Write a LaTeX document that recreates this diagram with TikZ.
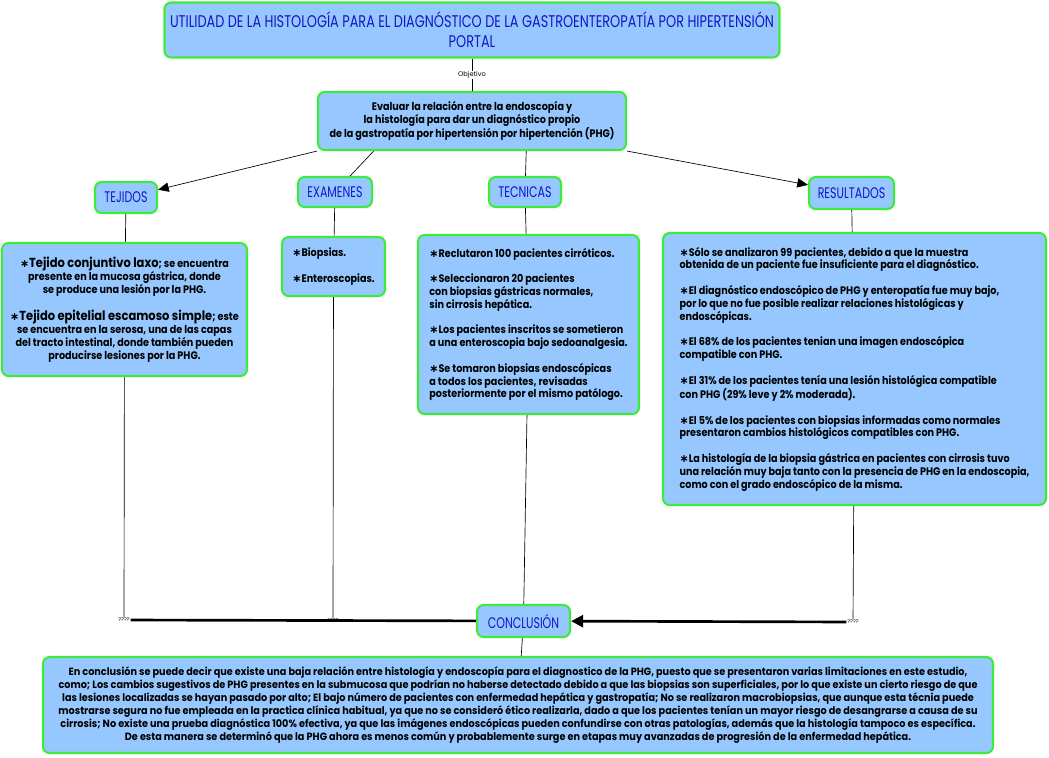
\documentclass[tikz,border=0pt]{standalone}
\usepackage{fontspec}
\setmainfont{Poppins}
\newfontfamily\bodyfont[FakeStretch=0.88]{Poppins}
\newfontfamily\condfont[FakeStretch=0.92]{Poppins}
\newfontfamily\headfont[FakeStretch=0.72]{Poppins}
\newfontfamily\titlefont[FakeStretch=0.76]{Poppins}
\newfontfamily\symfont{DejaVu Sans}
\newcommand\bul{{\symfont\bfseries ∗}}
\usetikzlibrary{arrows.meta}
\definecolor{boxfill}{RGB}{150,200,255}
\definecolor{boxline}{RGB}{60,235,60}
\definecolor{headblue}{RGB}{20,20,200}
\tikzset{
  mapbox/.style={draw=boxline, fill=boxfill, line width=1.6pt, rounded corners=5pt, inner sep=0pt},
  headbox/.style={mapbox, text=headblue, font=\headfont\fontsize{11.5}{12}\selectfont},
  txtbox/.style={mapbox, font=\bodyfont\bfseries\fontsize{8.2}{9.6}\selectfont},
  tag/.style={font=\fontsize{4}{4}\selectfont, inner sep=0.5pt},
  link/.style={draw=black, line width=0.5pt},
  joinlink/.style={draw=black, line width=2pt},
}
\begin{document}
\begin{tikzpicture}[x=0.75pt, y=-0.75pt]
	\useasboundingbox (0,0) rectangle (1049,757);
	\node[headbox, minimum width=461.25pt, minimum height=41.25pt, align=center, font=\titlefont\fontsize{12.7}{15}\selectfont] (title) at(472, 30) {UTILIDAD DE LA HISTOLOGÍA PARA EL DIAGNÓSTICO DE LA GASTROENTEROPATÍA POR HIPERTENSIÓN\\PORTAL};
	\node[txtbox, minimum width=231pt, minimum height=43.5pt, align=center] (obj) at(472, 121) {Evaluar la relación entre la endoscopía y\\la histología para dar un diagnóstico propio\\de la gastropatía por hipertensión por hipertención (PHG)};
	
	\node[headbox, minimum width=46.5pt, minimum height=23.25pt] (tej) at(126, 197.5) {TEJIDOS};
	\node[headbox, minimum width=55.5pt, minimum height=22.5pt] (exam) at(335, 192) {EXAMENES};
	\node[headbox, minimum width=54pt, minimum height=22.5pt] (tec) at(525, 192) {TECNICAS};
	\node[headbox, minimum width=63.75pt, minimum height=24pt] (res) at(851.5, 193) {RESULTADOS};
	
	\node[txtbox, minimum width=183.75pt, minimum height=99.75pt, align=center] (tejtxt) at(124.5, 309.5) {\bul{\fontsize{9.8}{9.6}\selectfont Tejido conjuntivo laxo}; se encuentra\\presente en la mucosa gástrica, donde\\se produce una lesión por la PHG.\\[9.6pt]\bul{\fontsize{9.8}{9.6}\selectfont Tejido epitelial escamoso simple}; este\\se encuentra en la serosa, una de las capas\\del tracto intestinal, donde también pueden\\producirse lesiones por la PHG.};
	\node[txtbox, minimum width=77.25pt, minimum height=44.25pt, align=left] (examtxt) at(333.5, 266.5) {\bul Biopsias.\\[9.6pt]\bul Enteroscopias.};
	\node[txtbox, minimum width=165.75pt, minimum height=134.25pt, align=left] (tectxt) at(528.5, 324.5) {\bul Reclutaron 100 pacientes cirróticos.\\[9.6pt]\bul Seleccionaron 20 pacientes\\con biopsias gástricas normales,\\sin cirrosis hepática.\\[9.6pt]\bul Los pacientes inscritos se sometieron\\a una enteroscopia bajo sedoanalgesia.\\[9.6pt]\bul Se tomaron biopsias endoscópicas\\a todos los pacientes, revisadas\\posteriormente por el mismo patólogo.};
	\node[txtbox, minimum width=287.25pt, minimum height=204pt, align=left] (restxt) at(854.5, 369) {\bul Sólo se analizaron 99 pacientes, debido a que la muestra\\obtenida de un paciente fue insuficiente para el diagnóstico.\\[9.6pt]\bul El diagnóstico endoscópico de PHG y enteropatía fue muy bajo,\\por lo que no fue posible realizar relaciones histológicas y\\endoscópicas.\\[9.6pt]\bul El 68\% de los pacientes tenian una imagen endoscópica\\compatible con PHG.\\[9.6pt]\bul El 31\% de los pacientes tenía una lesión histológica compatible\\con PHG (29\% leve y 2\% moderada).\\[9.6pt]\bul El 5\% de los pacientes con biopsias informadas como normales\\presentaron cambios histológicos compatibles con PHG.\\[9.6pt]\bul La histología de la biopsia gástrica en pacientes con cirrosis tuvo\\una relación muy baja tanto con la presencia de PHG en la endoscopia,\\como con el grado endoscópico de la misma.};
	
	\node[tag] (q1) at(124, 620) {????};
	\node[tag] (q2) at(333, 621) {????};
	\node[tag] (q3) at(853, 622) {????};
	
	\node[headbox, minimum width=69.75pt, minimum height=24pt] (concl) at(523.5, 621) {CONCLUSIÓN};
	\node[txtbox, minimum width=712.5pt, minimum height=72pt, align=center, font=\condfont\bfseries\fontsize{7.9}{8.4}\selectfont] (conctxt) at(518, 705) {En conclusión se puede decir que existe una baja relación entre histología y endoscopía para el diagnostico de la PHG, puesto que se presentaron varias limitaciones en este estudio,\\como; Los cambios sugestivos de PHG presentes en la submucosa que podrían no haberse detectado debido a que las biopsias son superficiales, por lo que existe un cierto riesgo de que\\las lesiones localizadas se hayan pasado por alto; El bajo número de pacientes con enfermedad hepática y gastropatía; No se realizaron macrobiopsias, que aunque esta técnia puede\\mostrarse segura no fue empleada en la practica clínica habitual, ya que no se consideró ético realizarla, dado a que los pacientes tenían un mayor riesgo de desangrarse a causa de su\\cirrosis; No existe una prueba diagnóstica 100\% efectiva, ya que las imágenes endoscópicas pueden confundirse con otras patologías, además que la histología tampoco es específica.\\De esta manera se determinó que la PHG ahora es menos común y probablemente surge en etapas muy avanzadas de progresión de la enfermedad hepática.};
	
	\draw[link] (title) -- node[tag, fill=white, font=\fontsize{5}{5}\selectfont] (objlbl) {Objetivo} (obj);
	\draw[link, -{Triangle[length=8pt, width=7pt]}] (obj.south west) -- (tej);
	\draw[link] (obj.197) -- (exam);
	\draw[link] (obj.-29) -- (tec);
	\draw[link, -{Triangle[length=8pt, width=7pt]}] (obj.south east) -- (res);
	\draw[link] (tej) -- (tejtxt);
	\draw[link] (exam) -- (examtxt);
	\draw[link] (tec) -- (tectxt);
	\draw[link] (res) -- (restxt);
	\draw[link] (tejtxt) -- (q1);
	\draw[link] (examtxt) -- (q2);
	\draw[link] (tectxt) -- (concl);
	\draw[link] (restxt) -- (q3);
	\draw[joinlink] (q1) -- (concl);
	\draw[joinlink] (q2) -- (concl);
	\draw[joinlink, -{Triangle[length=9pt, width=9pt]}] (q3) -- (concl);
	\draw[link] (concl) -- (conctxt);
\end{tikzpicture}
\end{document}
